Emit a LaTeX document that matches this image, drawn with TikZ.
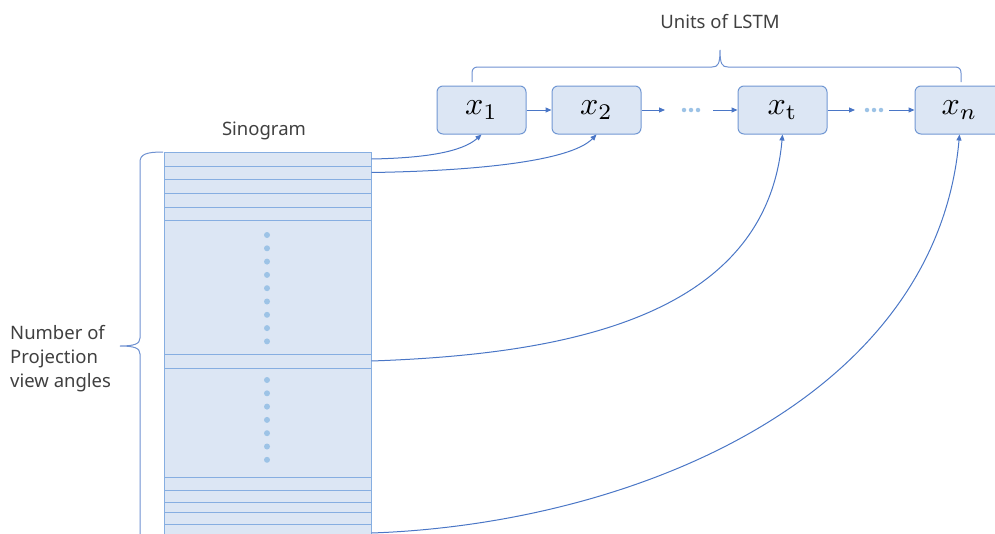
\documentclass[tikz,border=0pt]{standalone}
\usepackage{graphicx}
\usepackage[no-math]{fontspec}
\setmainfont{Noto Sans}
\usetikzlibrary{arrows.meta}
\definecolor{boxfill}{HTML}{DCE6F4}
\definecolor{boxline}{HTML}{7197D3}
\definecolor{rowline}{HTML}{86AEE1}
\definecolor{arrc}{HTML}{4A76C6}
\definecolor{dotc}{HTML}{9DC3E6}
\definecolor{txt}{HTML}{404040}
\newcommand{\bigmath}[1]{\scalebox{3.2}{$#1$}}
\tikzset{
  unit/.style={draw=boxline, fill=boxfill, rounded corners=6pt, line width=1pt,
    minimum width=89pt, minimum height=48pt, inner sep=0pt},
  row/.style={draw=rowline, fill=boxfill, line width=1pt, minimum width=207pt, inner sep=0pt},
  arr/.style={draw=arrc, line width=1pt, -{Triangle[length=6pt,width=5pt]}},
  brace/.style={draw=arrc!80, line width=1pt},
  lbl/.style={text=txt, font=\fontsize{18.5}{24}\selectfont, inner sep=0pt},
  dot/.style={fill=dotc, circle, minimum size=6pt, inner sep=0pt}
}
\begin{document}
\begin{tikzpicture}[x=1pt,y=-1pt]
\useasboundingbox (0,0) rectangle (995,533);
\clip (0,0) rectangle (995,533);
% sinogram rows
\foreach \a/\b/\n in {152/166/r1,166/179/r2,179/193/r3,193/207/r4,207/220/r5,220/354/rd1,354/368/rt,368/477/rd2,477/490/r6,490/502/r7,502/512/r8,512/524/r9,524/540/rn}
  \node[row, minimum height={(\b-\a)*1pt}] (\n) at (267.5,{(\a+\b)/2}) {};
\foreach \i in {0,...,8} \node[dot] (da\i) at (267,{235+13.3*\i}) {};
\foreach \i in {0,...,6} \node[dot] (db\i) at (267,{380+13.3*\i}) {};
\node[lbl] (sino) at (264,131) {Sinogram};
% LSTM units
\node[unit] (x1) at (481.5,110) {\bigmath{x_1}};
\node[unit] (x2) at (596.5,110) {\bigmath{x_2}};
\node[unit] (xt) at (782.5,110) {\bigmath{x_{\mathrm{t}}}};
\node[unit] (xn) at (959.5,110) {\bigmath{x_n}};
\coordinate (e1) at (665,110);
\coordinate (s1) at (713,110);
\coordinate (e2) at (855,110);
\coordinate (s2) at (889,110);
\foreach \x in {684,691,698} \node[dot, minimum size=4.5pt] at (\x,110) {};
\foreach \x in {867,874,881} \node[dot, minimum size=4.5pt] at (\x,110) {};
\draw[arr] (x1) -- (x2);
\draw[arr] (x2) -- (e1);
\draw[arr] (s1) -- (xt);
\draw[arr] (xt) -- (e2);
\draw[arr] (s2) -- (xn);
% connectors
\draw[arr] (r1.east) .. controls (425,158) and (462,152) .. (x1.south);
\draw[arr] (r2.east) .. controls (470,171) and (570,162) .. (x2.south);
\draw[arr] (rt.east) to[out=2,in=-95,looseness=1.02] (xt.south);
\draw[arr] ([yshift=-1pt]rn.east) to[out=2,in=-95,looseness=0.95] (xn.south);
% braces
\draw[brace] (163,152) .. controls (147,152) and (140,154) .. (140,162) -- (140,338)
  .. controls (140,344) and (134,346) .. (120,346) .. controls (134,346) and (140,348) .. (140,354) -- (140,545);
\draw[brace] (472,82) -- (472,73) .. controls (472,69) and (474,67) .. (478,67) -- (712,67)
  .. controls (718,67) and (720,64) .. (720,50) .. controls (720,64) and (722,67) .. (728,67)
  -- (955,67) .. controls (959,67) and (961,69) .. (961,73) -- (961,82);
\node[lbl] (units) at (720,22) {Units of LSTM};
\node[lbl, align=left, anchor=west] (num) at (10,359) {Number of\\Projection\\view angles};
\end{tikzpicture}
\end{document}
